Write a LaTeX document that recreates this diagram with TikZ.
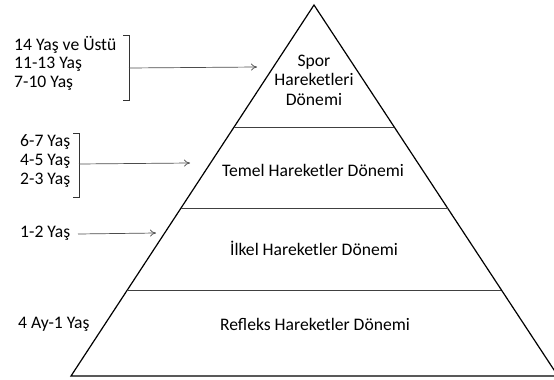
\documentclass[tikz,border=0pt]{standalone}
\usepackage{fontspec}
\setmainfont{Carlito}
\usetikzlibrary{arrows.meta}
\begin{document}
\begin{tikzpicture}[x=1pt,y=-1pt,
  lbl/.style={font=\fontsize{17.6}{19}\selectfont, inner sep=0pt, anchor=west},
  mid/.style={font=\fontsize{17.6}{19.5}\selectfont, inner sep=0pt, align=center},
  edge/.style={line width=1.2pt, black},
  divider/.style={line width=0.9pt, black!75},
  brk/.style={line width=0.7pt, black!80},
  arr/.style={line width=0.7pt, black!70, -{To[length=6pt,width=7pt]}}]
\useasboundingbox (0,0) rectangle (554,380);
\clip (0,0) rectangle (554,380);
% pyramid
\coordinate (apex) at (314,5);
\coordinate (bl) at (71,376);
\coordinate (br) at (558,376);
\draw[edge, line join=miter] (bl) -- (apex) -- (br) -- cycle;
\path (apex) -- (bl) coordinate[pos=0.3288] (l1) coordinate[pos=0.5472] (l2) coordinate[pos=0.7682] (l3);
\path (apex) -- (br) coordinate[pos=0.3288] (r1) coordinate[pos=0.5472] (r2) coordinate[pos=0.7682] (r3);
\draw[divider] (l1) -- (r1);
\draw[divider] (l2) -- (r2);
\draw[divider] (l3) -- (r3);
% level texts
\node[mid] (spor) at (314,80) {Spor\\Hareketleri\\Dönemi};
\node[mid] (temel) at (313,170) {Temel Hareketler Dönemi};
\node[mid] (ilkel) at (314,248) {İlkel Hareketler Dönemi};
\node[mid] (refleks) at (315,324) {Refleks Hareketler Dönemi};
% left labels group 1
\node[lbl] (a1) at (14,45) {14 Yaş ve Üstü};
\node[lbl] (a2) at (14,64) {11-13 Yaş};
\node[lbl] (a3) at (14,83) {7-10 Yaş};
\draw[brk] (123,35) -- (129,35) -- (129,100) -- (123,100);
\coordinate (b1) at (129,68);
\coordinate (t1) at (257,67);
\draw[arr] (b1) -- (t1);
% group 2
\node[lbl] (c1) at (20,142) {6-7 Yaş};
\node[lbl] (c2) at (20,161) {4-5 Yaş};
\node[lbl] (c3) at (20,180) {2-3 Yaş};
\draw[brk] (73,133) -- (79,133) -- (79,197) -- (73,197);
\coordinate (b2) at (79,164);
\coordinate (t2) at (190,163);
\draw[arr] (b2) -- (t2);
% 1-2
\node[lbl] (d1) at (20,233) {1-2 Yaş};
\coordinate (s3) at (78,234);
\coordinate (t3) at (156,233);
\draw[arr] (s3) -- (t3);
% 4 Ay
\node[lbl] (e1) at (18,324) {4 Ay-1 Yaş};
\end{tikzpicture}
\end{document}
